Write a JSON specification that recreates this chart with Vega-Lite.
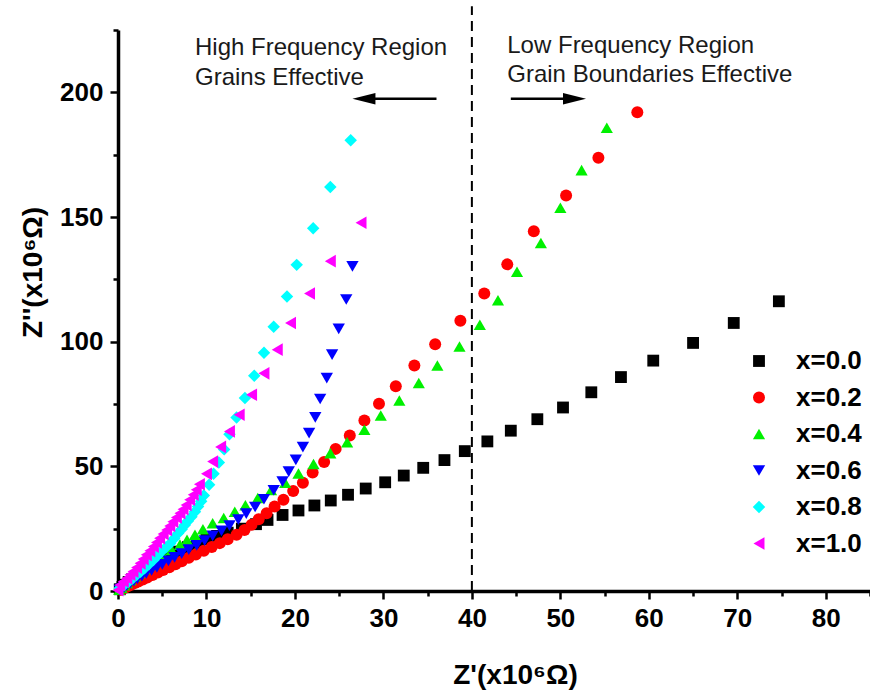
{
  "$schema": "https://vega.github.io/schema/vega-lite/v6.json",
  "width": 752,
  "height": 561,
  "autosize": {"type": "none"},
  "padding": {"left": 118, "top": 30, "right": 0, "bottom": 103},
  "background": "white",
  "config": {
    "view": {"stroke": null},
    "font": "Liberation Sans",
    "axis": {
      "domainColor": "black", "domainWidth": 3.5, "tickColor": "black", "tickWidth": 2.5,
      "labelColor": "black", "labelFontSize": 26, "labelFontWeight": "bold", "labelFont": "Liberation Sans",
      "titleColor": "black", "titleFontSize": 28, "titleFontWeight": "bold", "titleFont": "Liberation Sans",
      "grid": false, "labelFlush": false
    }
  },
  "datasets": {
    "pts": [
      {"s":"x=0.0","zr":0.2,"zi":0.7},{"s":"x=0.0","zr":0.5,"zi":1.6},{"s":"x=0.0","zr":0.8,"zi":2.5},{"s":"x=0.0","zr":1.2,"zi":3.6},{"s":"x=0.0","zr":1.6,"zi":4.7},{"s":"x=0.0","zr":2.1,"zi":6.0},{"s":"x=0.0","zr":2.6,"zi":7.2},{"s":"x=0.0","zr":3.2,"zi":8.6},{"s":"x=0.0","zr":3.8,"zi":9.9},{"s":"x=0.0","zr":4.5,"zi":11.3},{"s":"x=0.0","zr":5.2,"zi":12.7},{"s":"x=0.0","zr":6.0,"zi":14.2},{"s":"x=0.0","zr":6.9,"zi":15.8},{"s":"x=0.0","zr":7.9,"zi":17.6},{"s":"x=0.0","zr":8.9,"zi":19.3},{"s":"x=0.0","zr":10.0,"zi":20.8},{"s":"x=0.0","zr":11.2,"zi":22.1},{"s":"x=0.0","zr":12.4,"zi":23.4},{"s":"x=0.0","zr":14.0,"zi":25.0},{"s":"x=0.0","zr":15.6,"zi":26.8},{"s":"x=0.0","zr":16.9,"zi":28.5},{"s":"x=0.0","zr":18.6,"zi":30.5},{"s":"x=0.0","zr":20.4,"zi":32.3},{"s":"x=0.0","zr":22.2,"zi":34.3},{"s":"x=0.0","zr":24.05,"zi":36.3},{"s":"x=0.0","zr":26.0,"zi":38.6},{"s":"x=0.0","zr":28.0,"zi":41.1},{"s":"x=0.0","zr":30.2,"zi":43.6},{"s":"x=0.0","zr":32.3,"zi":46.3},{"s":"x=0.0","zr":34.5,"zi":49.4},{"s":"x=0.0","zr":36.9,"zi":52.5},{"s":"x=0.0","zr":39.2,"zi":56.1},{"s":"x=0.0","zr":41.75,"zi":60.0},{"s":"x=0.0","zr":44.4,"zi":64.3},{"s":"x=0.0","zr":47.4,"zi":68.9},{"s":"x=0.0","zr":50.3,"zi":73.6},{"s":"x=0.0","zr":53.5,"zi":79.7},{"s":"x=0.0","zr":56.85,"zi":85.8},{"s":"x=0.0","zr":60.5,"zi":92.4},{"s":"x=0.0","zr":65.0,"zi":99.5},{"s":"x=0.0","zr":69.6,"zi":107.5},{"s":"x=0.0","zr":74.7,"zi":116.2},
      {"s":"x=0.2","zr":0.3,"zi":0.5},{"s":"x=0.2","zr":0.5,"zi":0.9},{"s":"x=0.2","zr":0.8,"zi":1.3},{"s":"x=0.2","zr":1.1,"zi":1.9},{"s":"x=0.2","zr":1.5,"zi":2.5},{"s":"x=0.2","zr":1.9,"zi":3.2},{"s":"x=0.2","zr":2.3,"zi":3.8},{"s":"x=0.2","zr":2.8,"zi":4.6},{"s":"x=0.2","zr":3.3,"zi":5.4},{"s":"x=0.2","zr":3.9,"zi":6.4},{"s":"x=0.2","zr":4.5,"zi":7.4},{"s":"x=0.2","zr":5.1,"zi":8.4},{"s":"x=0.2","zr":5.8,"zi":9.5},{"s":"x=0.2","zr":6.5,"zi":10.7},{"s":"x=0.2","zr":7.2,"zi":11.9},{"s":"x=0.2","zr":8.0,"zi":13.3},{"s":"x=0.2","zr":8.8,"zi":14.6},{"s":"x=0.2","zr":9.7,"zi":16.1},{"s":"x=0.2","zr":10.6,"zi":17.6},{"s":"x=0.2","zr":11.5,"zi":19.2},{"s":"x=0.2","zr":12.4,"zi":20.8},{"s":"x=0.2","zr":13.4,"zi":22.6},{"s":"x=0.2","zr":14.3,"zi":24.5},{"s":"x=0.2","zr":15.1,"zi":26.6},{"s":"x=0.2","zr":15.9,"zi":28.8},{"s":"x=0.2","zr":16.8,"zi":31.2},{"s":"x=0.2","zr":17.7,"zi":33.9},{"s":"x=0.2","zr":18.7,"zi":36.6},{"s":"x=0.2","zr":19.8,"zi":40.1},{"s":"x=0.2","zr":20.9,"zi":43.4},{"s":"x=0.2","zr":22.0,"zi":47.5},{"s":"x=0.2","zr":23.3,"zi":51.7},{"s":"x=0.2","zr":24.6,"zi":57.0},{"s":"x=0.2","zr":26.2,"zi":62.4},{"s":"x=0.2","zr":27.85,"zi":68.4},{"s":"x=0.2","zr":29.5,"zi":75.1},{"s":"x=0.2","zr":31.4,"zi":82.1},{"s":"x=0.2","zr":33.5,"zi":90.4},{"s":"x=0.2","zr":35.85,"zi":99.0},{"s":"x=0.2","zr":38.7,"zi":108.4},{"s":"x=0.2","zr":41.4,"zi":119.3},{"s":"x=0.2","zr":44.0,"zi":131.0},{"s":"x=0.2","zr":47.0,"zi":144.3},{"s":"x=0.2","zr":50.65,"zi":158.6},{"s":"x=0.2","zr":54.3,"zi":173.8},{"s":"x=0.2","zr":58.7,"zi":192.0},
      {"s":"x=0.4","zr":0.15,"zi":0.5},{"s":"x=0.4","zr":0.4,"zi":1.3},{"s":"x=0.4","zr":0.7,"zi":2.3},{"s":"x=0.4","zr":1.0,"zi":3.2},{"s":"x=0.4","zr":1.4,"zi":4.4},{"s":"x=0.4","zr":1.9,"zi":5.8},{"s":"x=0.4","zr":2.4,"zi":7.2},{"s":"x=0.4","zr":3.0,"zi":8.8},{"s":"x=0.4","zr":3.6,"zi":10.4},{"s":"x=0.4","zr":4.3,"zi":12.2},{"s":"x=0.4","zr":5.1,"zi":14.3},{"s":"x=0.4","zr":6.05,"zi":16.5},{"s":"x=0.4","zr":7.0,"zi":18.6},{"s":"x=0.4","zr":7.8,"zi":20.5},{"s":"x=0.4","zr":8.7,"zi":22.6},{"s":"x=0.4","zr":9.6,"zi":24.8},{"s":"x=0.4","zr":10.7,"zi":27.2},{"s":"x=0.4","zr":11.95,"zi":29.3},{"s":"x=0.4","zr":13.2,"zi":31.8},{"s":"x=0.4","zr":14.4,"zi":34.4},{"s":"x=0.4","zr":15.8,"zi":37.3},{"s":"x=0.4","zr":17.3,"zi":40.5},{"s":"x=0.4","zr":18.9,"zi":43.4},{"s":"x=0.4","zr":20.4,"zi":47.1},{"s":"x=0.4","zr":22.1,"zi":50.9},{"s":"x=0.4","zr":24.0,"zi":55.3},{"s":"x=0.4","zr":25.9,"zi":59.7},{"s":"x=0.4","zr":27.85,"zi":64.7},{"s":"x=0.4","zr":29.7,"zi":70.4},{"s":"x=0.4","zr":31.8,"zi":76.4},{"s":"x=0.4","zr":34.0,"zi":83.4},{"s":"x=0.4","zr":36.1,"zi":90.4},{"s":"x=0.4","zr":38.6,"zi":98.1},{"s":"x=0.4","zr":40.9,"zi":106.8},{"s":"x=0.4","zr":42.95,"zi":116.6},{"s":"x=0.4","zr":45.1,"zi":128.0},{"s":"x=0.4","zr":47.8,"zi":139.6},{"s":"x=0.4","zr":50.0,"zi":153.7},{"s":"x=0.4","zr":52.4,"zi":168.8},{"s":"x=0.4","zr":55.25,"zi":185.8},
      {"s":"x=0.6","zr":0.2,"zi":0.4},{"s":"x=0.6","zr":0.4,"zi":0.85},{"s":"x=0.6","zr":0.7,"zi":1.5},{"s":"x=0.6","zr":1.0,"zi":2.25},{"s":"x=0.6","zr":1.4,"zi":3.1},{"s":"x=0.6","zr":1.8,"zi":4.0},{"s":"x=0.6","zr":2.2,"zi":4.9},{"s":"x=0.6","zr":2.7,"zi":6.0},{"s":"x=0.6","zr":3.2,"zi":7.1},{"s":"x=0.6","zr":3.8,"zi":8.3},{"s":"x=0.6","zr":4.4,"zi":9.5},{"s":"x=0.6","zr":5.0,"zi":10.7},{"s":"x=0.6","zr":5.7,"zi":12.1},{"s":"x=0.6","zr":6.4,"zi":13.5},{"s":"x=0.6","zr":7.2,"zi":15.0},{"s":"x=0.6","zr":8.0,"zi":16.6},{"s":"x=0.6","zr":8.9,"zi":18.3},{"s":"x=0.6","zr":9.8,"zi":20.2},{"s":"x=0.6","zr":10.7,"zi":22.1},{"s":"x=0.6","zr":11.7,"zi":24.1},{"s":"x=0.6","zr":12.6,"zi":26.2},{"s":"x=0.6","zr":13.6,"zi":28.6},{"s":"x=0.6","zr":14.5,"zi":31.0},{"s":"x=0.6","zr":15.5,"zi":33.7},{"s":"x=0.6","zr":16.5,"zi":36.8},{"s":"x=0.6","zr":17.6,"zi":40.4},{"s":"x=0.6","zr":18.6,"zi":43.9},{"s":"x=0.6","zr":19.3,"zi":47.9},{"s":"x=0.6","zr":20.1,"zi":52.6},{"s":"x=0.6","zr":20.9,"zi":57.7},{"s":"x=0.6","zr":21.6,"zi":63.3},{"s":"x=0.6","zr":22.3,"zi":69.6},{"s":"x=0.6","zr":22.85,"zi":77.0},{"s":"x=0.6","zr":23.6,"zi":85.4},{"s":"x=0.6","zr":24.2,"zi":94.8},{"s":"x=0.6","zr":24.95,"zi":105.1},{"s":"x=0.6","zr":25.8,"zi":116.9},{"s":"x=0.6","zr":26.5,"zi":130.2},
      {"s":"x=0.8","zr":0.2,"zi":1.1},{"s":"x=0.8","zr":0.7,"zi":2.4},{"s":"x=0.8","zr":1.2,"zi":3.7},{"s":"x=0.8","zr":1.65,"zi":5.0},{"s":"x=0.8","zr":2.1,"zi":6.4},{"s":"x=0.8","zr":2.55,"zi":7.7},{"s":"x=0.8","zr":3.0,"zi":9.1},{"s":"x=0.8","zr":3.5,"zi":10.7},{"s":"x=0.8","zr":4.0,"zi":12.4},{"s":"x=0.8","zr":4.45,"zi":14.1},{"s":"x=0.8","zr":4.9,"zi":15.8},{"s":"x=0.8","zr":5.4,"zi":17.4},{"s":"x=0.8","zr":5.9,"zi":19.1},{"s":"x=0.8","zr":6.35,"zi":21.1},{"s":"x=0.8","zr":6.8,"zi":23.2},{"s":"x=0.8","zr":7.2,"zi":24.8},{"s":"x=0.8","zr":7.55,"zi":26.5},{"s":"x=0.8","zr":7.9,"zi":28.1},{"s":"x=0.8","zr":8.3,"zi":29.8},{"s":"x=0.8","zr":8.7,"zi":31.8},{"s":"x=0.8","zr":9.05,"zi":33.9},{"s":"x=0.8","zr":9.4,"zi":36.0},{"s":"x=0.8","zr":9.7,"zi":38.3},{"s":"x=0.8","zr":10.3,"zi":42.6},{"s":"x=0.8","zr":10.8,"zi":47.0},{"s":"x=0.8","zr":11.4,"zi":51.5},{"s":"x=0.8","zr":12.0,"zi":56.8},{"s":"x=0.8","zr":12.6,"zi":62.9},{"s":"x=0.8","zr":13.4,"zi":69.6},{"s":"x=0.8","zr":14.35,"zi":77.4},{"s":"x=0.8","zr":15.4,"zi":86.3},{"s":"x=0.8","zr":16.5,"zi":95.6},{"s":"x=0.8","zr":17.6,"zi":106.0},{"s":"x=0.8","zr":19.1,"zi":118.1},{"s":"x=0.8","zr":20.2,"zi":130.8},{"s":"x=0.8","zr":22.06,"zi":145.5},{"s":"x=0.8","zr":24.0,"zi":162.0},{"s":"x=0.8","zr":26.3,"zi":180.8},
      {"s":"x=1.0","zr":0.0,"zi":0.3},{"s":"x=1.0","zr":0.2,"zi":2.4},{"s":"x=1.0","zr":0.6,"zi":3.8},{"s":"x=1.0","zr":1.0,"zi":5.1},{"s":"x=1.0","zr":1.35,"zi":6.5},{"s":"x=1.0","zr":1.7,"zi":7.8},{"s":"x=1.0","zr":2.1,"zi":9.4},{"s":"x=1.0","zr":2.5,"zi":11.1},{"s":"x=1.0","zr":2.85,"zi":12.8},{"s":"x=1.0","zr":3.2,"zi":14.5},{"s":"x=1.0","zr":3.6,"zi":16.1},{"s":"x=1.0","zr":4.0,"zi":17.8},{"s":"x=1.0","zr":4.35,"zi":19.5},{"s":"x=1.0","zr":4.7,"zi":21.2},{"s":"x=1.0","zr":5.1,"zi":22.9},{"s":"x=1.0","zr":5.5,"zi":24.5},{"s":"x=1.0","zr":5.85,"zi":26.1},{"s":"x=1.0","zr":6.2,"zi":27.8},{"s":"x=1.0","zr":6.6,"zi":29.5},{"s":"x=1.0","zr":7.0,"zi":31.2},{"s":"x=1.0","zr":7.35,"zi":32.8},{"s":"x=1.0","zr":7.7,"zi":34.5},{"s":"x=1.0","zr":8.1,"zi":36.6},{"s":"x=1.0","zr":8.5,"zi":38.6},{"s":"x=1.0","zr":8.85,"zi":40.6},{"s":"x=1.0","zr":9.2,"zi":42.8},{"s":"x=1.0","zr":10.0,"zi":47.0},{"s":"x=1.0","zr":10.7,"zi":51.9},{"s":"x=1.0","zr":11.6,"zi":57.8},{"s":"x=1.0","zr":12.6,"zi":64.0},{"s":"x=1.0","zr":13.7,"zi":70.7},{"s":"x=1.0","zr":15.1,"zi":78.7},{"s":"x=1.0","zr":16.5,"zi":87.3},{"s":"x=1.0","zr":18.0,"zi":96.8},{"s":"x=1.0","zr":19.5,"zi":107.5},{"s":"x=1.0","zr":21.65,"zi":119.3},{"s":"x=1.0","zr":24.0,"zi":132.3},{"s":"x=1.0","zr":27.47,"zi":147.7}
    ]
  },
  "layer": [
    {
      "data": {"values": [{"x": 40, "y": 0, "y2": 234.5}]},
      "mark": {"type": "rule", "color": "black", "strokeWidth": 2, "strokeDash": [10, 6]},
      "encoding": {
        "x": {"field": "x", "type": "quantitative"},
        "y": {"field": "y", "type": "quantitative"},
        "y2": {"field": "y2"}
      }
    },
    {
      "data": {"name": "pts"},
      "mark": {"type": "point", "filled": true, "opacity": 1, "strokeWidth": 0},
      "encoding": {
        "x": {
          "field": "zr", "type": "quantitative",
          "scale": {"domain": [0, 85], "nice": false, "zero": false},
          "axis": {
            "title": "Z'(x10⁶Ω)",
            "values": [0,5,10,15,20,25,30,35,40,45,50,55,60,65,70,75,80,85],
            "labelExpr": "datum.value % 10 === 0 ? datum.label : ''",
            "tickSize": {"condition": {"test": "datum.value % 10 === 0", "value": 8}, "value": 5},
            "labelPadding": 6,
            "titleX": 397, "titleY": 84, "titleBaseline": "middle", "titleAlign": "center"
          }
        },
        "y": {
          "field": "zi", "type": "quantitative",
          "scale": {"domain": [0, 225], "nice": false, "zero": false},
          "axis": {
            "title": "Z''(x10⁶Ω)",
            "values": [0,25,50,75,100,125,150,175,200,225],
            "labelExpr": "datum.value % 50 === 0 ? datum.label : ''",
            "tickSize": {"condition": {"test": "datum.value % 50 === 0", "value": 8}, "value": 5},
            "labelPadding": 7,
            "titleX": -85, "titleY": 242, "titleBaseline": "middle", "titleAlign": "center", "titleAngle": -90
          }
        },
        "color": {
          "field": "s", "type": "nominal",
          "scale": {"domain": ["x=0.0","x=0.2","x=0.4","x=0.6","x=0.8","x=1.0"], "range": ["#000000","#FF0000","#00F000","#0000FF","#00FFFF","#FF00FF"]},
          "legend": {
            "title": null, "orient": "none", "legendX": 628, "legendY": 318, "padding": 0,
            "labelFontSize": 26, "labelFontWeight": "bold", "labelColor": "black", "labelFont": "Liberation Sans",
            "labelOffset": 24, "rowPadding": 10.5, "symbolStrokeWidth": 0, "symbolSize": 110
          }
        },
        "shape": {
          "field": "s", "type": "nominal",
          "scale": {"domain": ["x=0.0","x=0.2","x=0.4","x=0.6","x=0.8","x=1.0"], "range": ["square","circle","triangle-up","triangle-down","diamond","triangle-left"]},
          "legend": {
            "title": null, "orient": "none", "legendX": 628, "legendY": 318, "padding": 0,
            "labelFontSize": 26, "labelFontWeight": "bold", "labelColor": "black", "labelFont": "Liberation Sans",
            "labelOffset": 24, "rowPadding": 10.5, "symbolStrokeWidth": 0, "symbolSize": 110
          }
        },
        "size": {
          "field": "s", "type": "nominal",
          "scale": {"domain": ["x=0.0","x=0.2","x=0.4","x=0.6","x=0.8","x=1.0"], "range": [140, 160, 240, 240, 210, 240]},
          "legend": null
        }
      }
    },
    {
      "data": {"values": [{"x1": 36.0, "x2": 28.0, "y": 197.4}, {"x1": 44.4, "x2": 51.0, "y": 197.4}]},
      "mark": {"type": "rule", "color": "black", "strokeWidth": 2.5},
      "encoding": {
        "x": {"field": "x1", "type": "quantitative"},
        "x2": {"field": "x2"},
        "y": {"field": "y", "type": "quantitative"}
      }
    },
    {
      "data": {"values": [{"x": 26.5, "y": 197.4}]},
      "mark": {"type": "point", "shape": "M0,0L2,-0.5L2,0.5Z", "size": 529, "filled": true, "color": "black", "opacity": 1, "strokeWidth": 0},
      "encoding": {
        "x": {"field": "x", "type": "quantitative"},
        "y": {"field": "y", "type": "quantitative"}
      }
    },
    {
      "data": {"values": [{"x": 52.9, "y": 197.4}]},
      "mark": {"type": "point", "shape": "M0,0L-2,-0.5L-2,0.5Z", "size": 529, "filled": true, "color": "black", "opacity": 1, "strokeWidth": 0},
      "encoding": {
        "x": {"field": "x", "type": "quantitative"},
        "y": {"field": "y", "type": "quantitative"}
      }
    },
    {
      "data": {"values": [
        {"x": 8.7, "y": 214.9, "t": "High Frequency Region"},
        {"x": 8.7, "y": 202.8, "t": "Grains Effective"},
        {"x": 44.0, "y": 215.7, "t": "Low Frequency Region"},
        {"x": 44.0, "y": 204.0, "t": "Grain Boundaries Effective"}
      ]},
      "mark": {"type": "text", "align": "left", "baseline": "alphabetic", "fontSize": 24, "font": "Liberation Sans", "color": "#1a1a1a"},
      "encoding": {
        "x": {"field": "x", "type": "quantitative"},
        "y": {"field": "y", "type": "quantitative"},
        "text": {"field": "t"}
      }
    }
  ]
}
